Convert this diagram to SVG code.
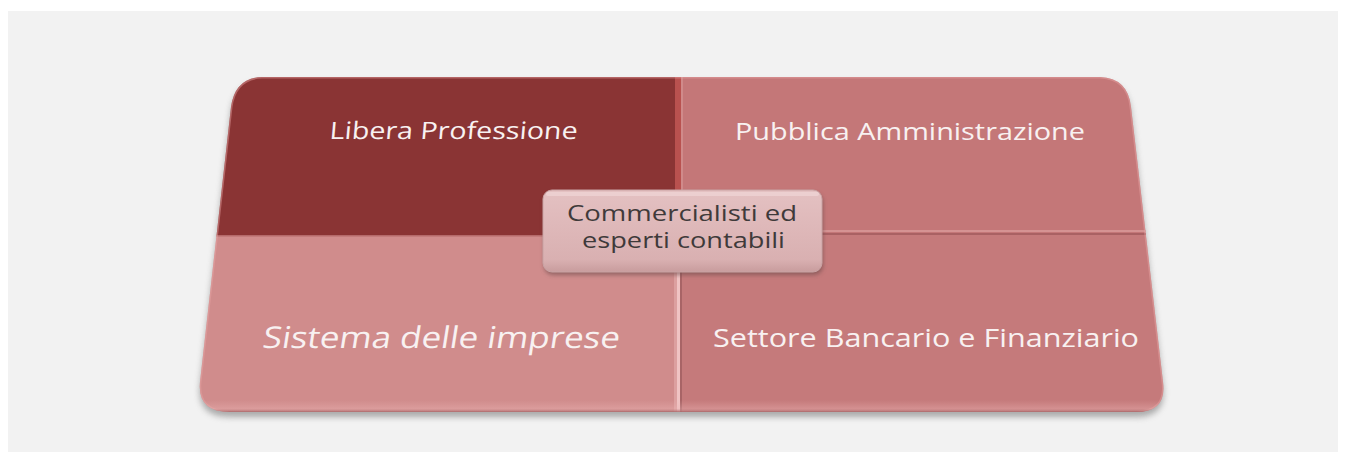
<svg xmlns="http://www.w3.org/2000/svg" width="1347" height="459" viewBox="0 0 1347 459">
  <style>
    .lbl { font-family: "Open Sans", "Noto Sans", "DejaVu Sans", sans-serif; fill: #f8f1f1; text-anchor: middle; }
    .ctr { font-family: "Open Sans", "Noto Sans", "DejaVu Sans", sans-serif; fill: #3f3a3a; text-anchor: middle; }
  </style>
  <defs>
    <path id="outline" d="M 262,77 L 1100,77 Q 1128,78 1131,107 L 1163,382 Q 1167,412 1136,412 L 230,412 Q 197,412 200,382 L 231,107 Q 235,78 262,77 Z"/>
    <clipPath id="plate"><use href="#outline"/></clipPath>
    <filter id="blur6" x="-10%" y="-10%" width="120%" height="130%"><feGaussianBlur stdDeviation="3"/></filter>
    <filter id="blur2" x="-10%" y="-20%" width="120%" height="150%"><feGaussianBlur stdDeviation="2"/></filter>
    <linearGradient id="boxFill" x1="0" y1="0" x2="0" y2="1">
      <stop offset="0" stop-color="#e4c1c2"/>
      <stop offset="0.85" stop-color="#d9b0b1"/>
      <stop offset="1" stop-color="#c89c9d"/>
    </linearGradient>
    <linearGradient id="rimBottom" x1="0" y1="0" x2="0" y2="1">
      <stop offset="0" stop-color="#e9b1b1" stop-opacity="0"/>
      <stop offset="0.7" stop-color="#efb9b9" stop-opacity="0.35"/>
      <stop offset="1" stop-color="#9c5a5c" stop-opacity="0.8"/>
    </linearGradient>
  </defs>

  <rect x="0" y="0" width="1347" height="459" fill="#ffffff"/>
  <rect x="8" y="11" width="1330" height="441" fill="#f2f2f2"/>

  <!-- plate shadow -->
  <use href="#outline" transform="translate(0,5)" fill="#6e6e6e" opacity="0.55" filter="url(#blur6)"/>

  <g clip-path="url(#plate)">
    <g id="q-libera">
      <rect x="180" y="70" width="500" height="165" fill="#8a3434"/>
      <text class="lbl" font-size="24" textLength="248" lengthAdjust="spacingAndGlyphs" transform="translate(453,139) skewX(-5)">Libera Professione</text>
    </g>
    <g id="q-pubblica">
      <rect x="680" y="70" width="500" height="165" fill="#c47778"/>
      <text class="lbl" font-size="24.5" textLength="350" lengthAdjust="spacingAndGlyphs" x="910" y="140">Pubblica Amministrazione</text>
    </g>
    <g id="q-sistema">
      <rect x="180" y="235" width="500" height="190" fill="#d08c8c"/>
      <text class="lbl" font-size="30" textLength="357" lengthAdjust="spacingAndGlyphs" transform="translate(440,348) skewX(-9)">Sistema delle imprese</text>
    </g>
    <g id="q-settore">
      <rect x="680" y="235" width="500" height="190" fill="#c57a7b"/>
      <text class="lbl" font-size="26" textLength="426" lengthAdjust="spacingAndGlyphs" x="926" y="347">Settore Bancario e Finanziario</text>
    </g>
    <!-- bevel seams -->
    <rect x="675" y="70" width="6" height="165" fill="#b9514f"/>
    <rect x="681" y="70" width="2" height="165" fill="#d08a8a"/>
    <rect x="674" y="235" width="3" height="190" fill="#dca0a0"/>
    <rect x="677" y="235" width="3" height="190" fill="#f0c4c4"/>
    <rect x="680" y="235" width="2" height="190" fill="#a86466"/>
    <rect x="680" y="230" width="500" height="2" fill="#d59393"/>
    <rect x="680" y="233" width="500" height="2" fill="#a96163"/>
    <rect x="180" y="235" width="500" height="1.5" fill="#b56a6a"/>
    <!-- plate rim -->
    <use href="#outline" fill="none" stroke="#e9a5a5" stroke-width="3" opacity="0.45"/>
    <rect x="180" y="400" width="1000" height="12" fill="url(#rimBottom)"/>
  </g>

  <g id="connectors"></g>

  <g id="center">
    <rect x="544" y="193" width="279" height="82" rx="9" fill="#6b4a4a" opacity="0.6" filter="url(#blur2)"/>
    <rect x="543" y="190" width="279" height="82" rx="9" fill="url(#boxFill)" stroke="#c9a3a4" stroke-width="1"/>
    <rect x="546" y="192" width="273" height="4" rx="2" fill="#efd6d6" opacity="0.7"/>
    <text class="ctr" font-size="22" textLength="230" lengthAdjust="spacingAndGlyphs" x="682" y="221">Commercialisti ed</text>
    <text class="ctr" font-size="22" textLength="203" lengthAdjust="spacingAndGlyphs" x="683.5" y="248">esperti contabili</text>
  </g>
</svg>
